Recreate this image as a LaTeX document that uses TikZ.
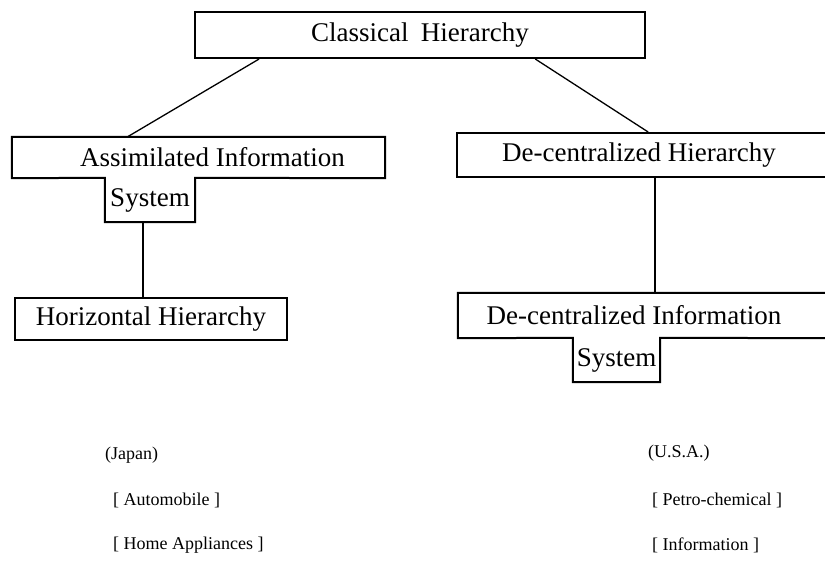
\documentclass[tikz,border=0pt]{standalone}
\usepackage{fontspec}
\setmainfont{Liberation Serif}
\usetikzlibrary{calc}
\tikzset{
  boxnode/.style={inner sep=0pt, minimum width=#1, font=\fontsize{27}{30}\selectfont},
  outline/.style={line width=2pt, line join=miter},
  conn/.style={line width=1.3pt},
  lbl/.style={anchor=west, inner sep=0pt, font=\fontsize{18}{20}\selectfont}
}
\begin{document}
\begin{tikzpicture}[x=1pt, y=-1pt]
\useasboundingbox (0,0) rectangle (825,562);
\fill[white] (0,0) rectangle (825,562);
\clip (0,0) rectangle (825,562);
% boxes
\node[boxnode=450pt, minimum height=46pt, draw, outline] (classical) at (420,35) {\raisebox{-2pt}{Classical\hspace{0.45em}Hierarchy}};
\node[boxnode=373pt, minimum height=41pt] (assim) at (198.5,157.5) {\hspace{28pt}Assimilated Information};
\node[boxnode=90pt, minimum height=44pt] (asys) at (150,200) {System};
\draw[outline] (assim.south west) -- (assim.north west) -- (assim.north east) -- (assim.south east) -- (asys.north east) -- (asys.south east) -- (asys.south west) -- (asys.north west) -- cycle;
\node[boxnode=272pt, minimum height=42pt, draw, outline] (horiz) at (151,319) {Horizontal Hierarchy};
\node[boxnode=380pt, minimum height=44pt, draw, outline] (dech) at (647,155) {\hspace{-16pt}\raisebox{-2pt}{De-centralized Hierarchy}};
\node[boxnode=380pt, minimum height=45pt] (deci) at (648,315.5) {\hspace{-28pt}De-centralized Information};
\node[boxnode=87pt, minimum height=44pt] (dsys) at (616.5,360) {System};
\draw[outline] (deci.south west) -- (deci.north west) -- (deci.north east) -- (deci.south east) -- (dsys.north east) -- (dsys.south east) -- (dsys.south west) -- (dsys.north west) -- cycle;
% connectors
\draw[conn] ($(classical.south west)!0.144!(classical.south east)$) -- ($(assim.north west)!0.31!(assim.north east)$);
\draw[conn] ($(classical.south west)!0.755!(classical.south east)$) -- ($(dech.north west)!0.503!(dech.north east)$);
\coordinate (a1) at ($(asys.south)+(-7,0)$);
\draw[conn] (a1) -- (a1 |- horiz.north);
\coordinate (d1) at ($(dech.south)+(8,0)$);
\draw[conn] (d1) -- (d1 |- deci.north);
% labels
\node[lbl] (japan) at (105,455) {(Japan)};
\node[lbl] (auto) at (113,500) {[ Automobile ]};
\node[lbl] (home) at (113,545) {[ Home Appliances ]};
\node[lbl] (usa) at (648,453) {(U.S.A.)};
\node[lbl] (petro) at (652,500) {[ Petro-chemical ]};
\node[lbl] (info) at (652,545) {[ Information ]};
\end{tikzpicture}
\end{document}
